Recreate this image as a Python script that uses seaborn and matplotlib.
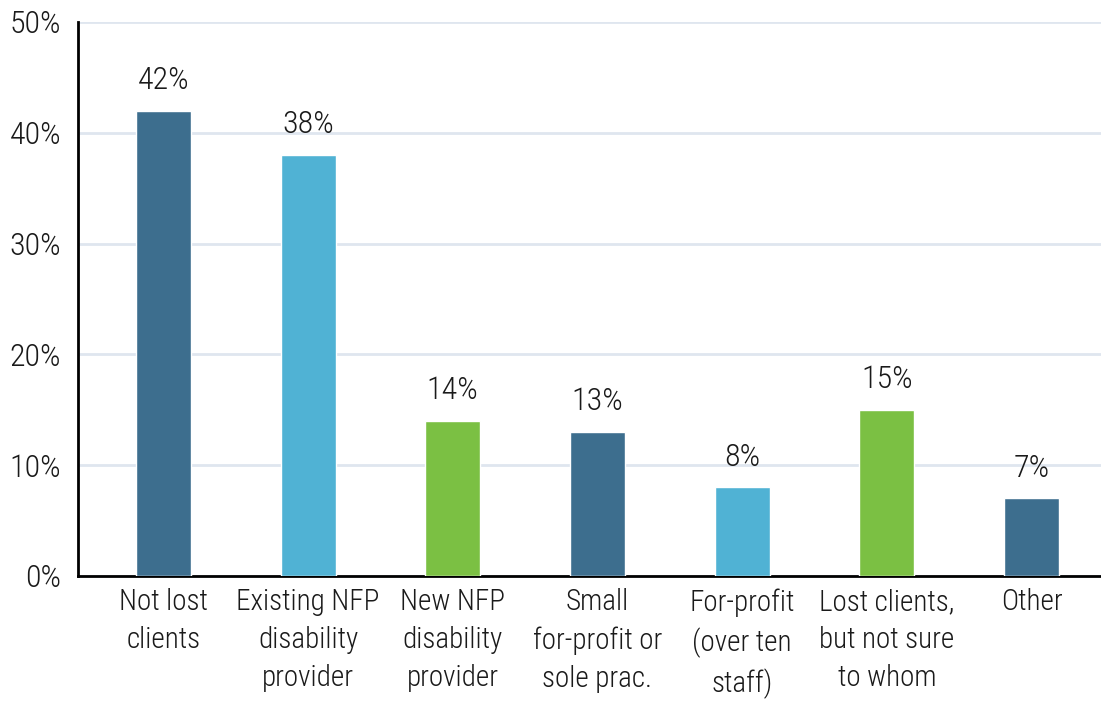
import matplotlib
matplotlib.use("Agg")
import matplotlib.pyplot as plt
import matplotlib.font_manager as fm
import seaborn as sns
import pandas as pd

categories = ["Not lost\nclients", "Existing NFP\ndisability\nprovider", "New NFP\ndisability\nprovider",
              "Small\nfor-profit or\nsole prac.", "For-profit\n(over ten\nstaff)",
              "Lost clients,\nbut not sure\nto whom", "Other"]
values = [42, 38, 14, 13, 8, 15, 7]
colors = ["#3d6e8e", "#50b2d4", "#7bc043", "#3d6e8e", "#50b2d4", "#7bc043", "#3d6e8e"]

sns.set_style("white")
names = {f.name for f in fm.fontManager.ttflist}
fam = [f for f in ["Roboto Condensed", "Liberation Sans Narrow", "Liberation Sans"] if f in names] + ["DejaVu Sans"]
plt.rcParams['font.family'] = fam
plt.rcParams['font.weight'] = 'light'

df = pd.DataFrame({"cat": categories, "val": values})

fig = plt.figure(figsize=(11.01, 7.02), dpi=100)
ax = fig.add_axes([0.0708, 0.1795, 0.9292, 0.7892])
sns.barplot(data=df, x="cat", y="val", hue="cat", palette=colors, legend=False,
            width=0.38, saturation=1, ax=ax, zorder=3)

for i, v in enumerate(values):
    ax.text(i, v + 1.4, f"{v}%", ha="center", va="bottom", fontsize=23,
            color="#1a1a1a", fontweight="light")

ax.set_ylim(0, 50)
ax.set_xlim(-0.59, 6.48)
ax.set_yticks(range(0, 51, 10))
ax.set_yticklabels([f"{t}%" for t in range(0, 51, 10)], fontsize=23, color="#1a1a1a",
                   fontweight="light")
for lab in ax.get_xticklabels():
    lab.set_fontweight("light")
    lab.set_fontsize(21)
    lab.set_linespacing(1.45)
ax.tick_params(axis="x", colors="#1a1a1a", length=0, pad=9)
ax.tick_params(axis="y", length=0, pad=12)
ax.set_xlabel("")
ax.set_ylabel("")
ax.yaxis.grid(True, color="#dfe6ef", linewidth=2, zorder=0)
ax.set_axisbelow(True)
for s in ["top", "right"]:
    ax.spines[s].set_visible(False)
ax.spines["left"].set_color("black")
ax.spines["left"].set_linewidth(2)
ax.spines["bottom"].set_color("black")
ax.spines["bottom"].set_linewidth(2)

fig.savefig("out.png", dpi=100)
